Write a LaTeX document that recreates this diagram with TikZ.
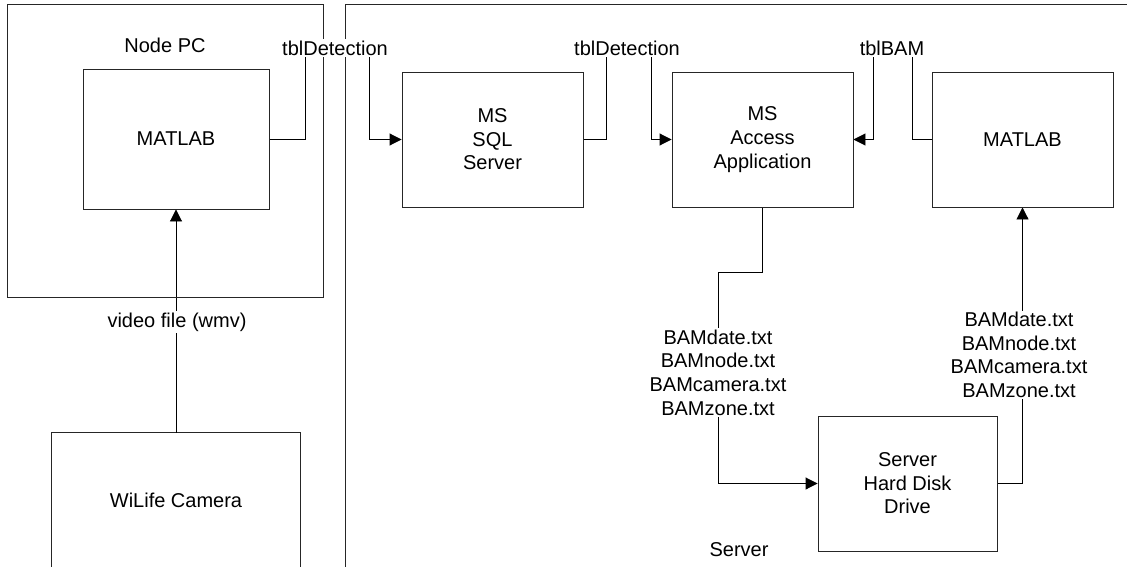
\documentclass[tikz,border=0pt]{standalone}
\usepackage{fontspec}
\setmainfont{Liberation Sans}
\usetikzlibrary{arrows.meta,backgrounds}
\begin{document}
\begin{tikzpicture}[x=1pt,y=-1pt,
  every node/.style={font=\fontsize{20}{23.6}\selectfont, inner sep=1pt},
  box/.style={draw=black!85, line width=0.9pt, align=center, minimum width=181pt, minimum height=135pt},
  lbl/.style={fill=white, align=center, inner sep=1.5pt},
  conn/.style={draw=black, line width=0.9pt},
  arr/.style={conn, -{Triangle[length=12pt,width=12pt]}},
  frame/.style={draw=black!85, line width=0.9pt}]
\useasboundingbox (0,0) rectangle (1127,567);
\clip (0,0) rectangle (1127,567);
% boxes
\node[frame, minimum width=316pt, minimum height=293pt] (pc) at (165,150.5) {};
\node at (165,45) (pctxt) {Node PC};
\node[box, minimum width=186pt, minimum height=140pt] (m1) at (176,139) {MATLAB};
\node[box] (sql) at (492.5,139.5) {MS\\SQL\\Server};
\node[box] (acc) at (762.5,139.5) {MS\\Access\\Application};
\node[box] (m2) at (1022.5,139.5) {MATLAB};
\node[box, minimum width=179pt] (hdd) at (907.5,483.5) {Server\\Hard Disk\\Drive};
\node[minimum width=248pt, minimum height=134pt] (cam) at (176,500) {WiLife Camera};
\node (srvtxt) at (739,550) {Server};
% labels
\node[lbl] (l1) at (335,48) {tblDetection};
\node[lbl] (l2) at (627,48) {tblDetection};
\node[lbl] (l3) at (892,48) {tblBAM};
\node[lbl] (l4) at (177,322) {video file (wmv)};
\node[lbl] (l5) at (718,372.5) {BAMdate.txt\\BAMnode.txt\\BAMcamera.txt\\BAMzone.txt};
\node[lbl] (l6) at (1019,355) {BAMdate.txt\\BAMnode.txt\\BAMcamera.txt\\BAMzone.txt};
\begin{pgfonlayer}{background}
  % server frame (open right and bottom)
  \draw[frame] (345,567) -- (345,4) -- (1127,4);
  % camera outline
  \draw[frame] (cam.south west) |- (cam.north east) -- (cam.south east);
  % connectors
  \draw[arr] (m1.east) -| (305,48) -- (369,48) |- (sql.west);
  \draw[arr] (sql.east) -| (606,48) -- (651,48) |- (acc.west);
  \draw[arr] (m2.west) -| (912,48) -- (873,48) |- (acc.east);
  \draw[arr] (cam.north) -- (m1.south);
  \draw[arr] (acc.south) |- (718,272) |- (hdd.west);
  \draw[arr] (hdd.east) -| (m2.south);
\end{pgfonlayer}
\end{tikzpicture}
\end{document}
